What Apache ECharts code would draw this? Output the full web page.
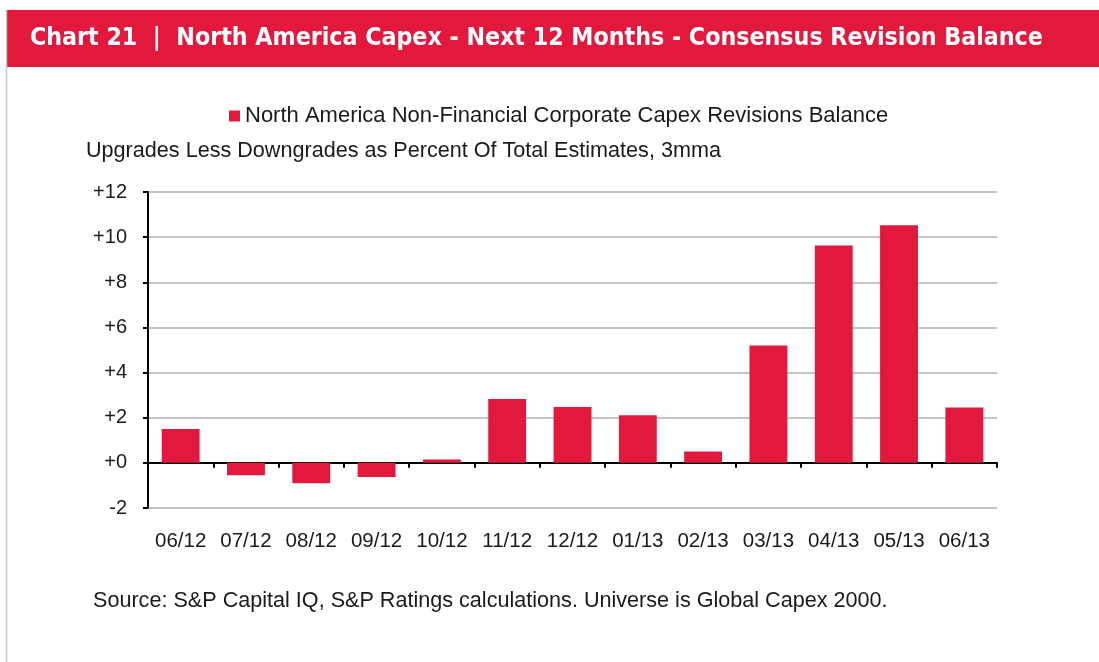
<!DOCTYPE html>
<html>
<head>
<meta charset="utf-8">
<title>North America Capex - Consensus Revision Balance</title>
<script src="https://cdn.jsdelivr.net/npm/echarts@6/dist/echarts.min.js"></script>
<style>
  html, body { margin: 0; padding: 0; background: #fff; }
  #main { width: 1099px; height: 662px; }
</style>
</head>
<body>
<div id="main"></div>
<script>
// data
var months = ['06/12', '07/12', '08/12', '09/12', '10/12', '11/12', '12/12',
              '01/13', '02/13', '03/13', '04/13', '05/13', '06/13'];
var revisionBalance = [1.5, -0.55, -0.9, -0.63, 0.15, 2.83, 2.47,
                       2.11, 0.5, 5.2, 9.63, 10.53, 2.45];
var yTicks = [-2, 0, 2, 4, 6, 8, 10, 12];

var red = '#E2183D';
var txt = '#1a1a1a';
var font = '"Liberation Sans", Arial, sans-serif';

var chart = echarts.init(document.getElementById('main'));

var option = {
  animation: false,
  backgroundColor: '#fff',
  textStyle: { fontFamily: font },
  graphic: [
    // title bar
    { type: 'rect', left: 7, top: 10, shape: { width: 1092, height: 57 }, style: { fill: red }, silent: true },
    { type: 'line', shape: { x1: 6.5, y1: 10, x2: 6.5, y2: 662 }, style: { stroke: '#c8c8c8', lineWidth: 1.5 }, silent: true },
    {
      type: 'text', left: 30, top: 26,
      style: {
        text: 'Chart 21  |  North America Capex - Next 12 Months - Consensus Revision Balance',
        fill: '#fff', font: 'bold 24.7px "Liberation Sans Narrow", "DejaVu Sans Condensed", "Liberation Sans", sans-serif'
      }
    },
    {
      type: 'text', left: 86, top: 140,
      style: { text: 'Upgrades Less Downgrades as Percent Of Total Estimates, 3mma', fill: txt, font: '21.6px ' + font }
    },
    {
      type: 'text', left: 93, top: 590,
      style: { text: 'Source: S&P Capital IQ, S&P Ratings calculations. Universe is Global Capex 2000.', fill: txt, font: '21.6px ' + font }
    }
  ],
  legend: {
    left: 224, top: 100,
    icon: 'rect', itemWidth: 11, itemHeight: 11,
    textStyle: { fontSize: 22, color: txt, fontFamily: font },
    data: ['North America Non-Financial Corporate Capex Revisions Balance']
  },
  grid: { left: 148, right: 102, top: 192, bottom: 154, containLabel: false },
  xAxis: {
    type: 'category',
    data: months,
    axisLine: { onZero: true, lineStyle: { color: '#000', width: 2 } },
    axisTick: { show: true, length: 5, lineStyle: { color: '#000', width: 2 } },
    axisLabel: { margin: 23, fontSize: 20.5, color: txt, fontFamily: font, interval: 0 },
    splitLine: { show: false }
  },
  yAxis: {
    type: 'value',
    min: yTicks[0], max: yTicks[yTicks.length - 1], interval: 2,
    axisLine: { show: true, lineStyle: { color: '#000', width: 2 } },
    axisTick: { show: true, length: 5, lineStyle: { color: '#000', width: 2 } },
    axisLabel: {
      margin: 21, fontSize: 20, color: txt, fontFamily: font,
      formatter: function (v) { return v >= 0 ? '+' + v : String(v); }
    },
    splitLine: { lineStyle: { color: '#c4c4c4', width: 2 } }
  },
  series: [{
    name: 'North America Non-Financial Corporate Capex Revisions Balance',
    type: 'bar',
    data: revisionBalance,
    barWidth: '58%',
    itemStyle: { color: red }
  }]
};

chart.setOption(option);
</script>
</body>
</html>
